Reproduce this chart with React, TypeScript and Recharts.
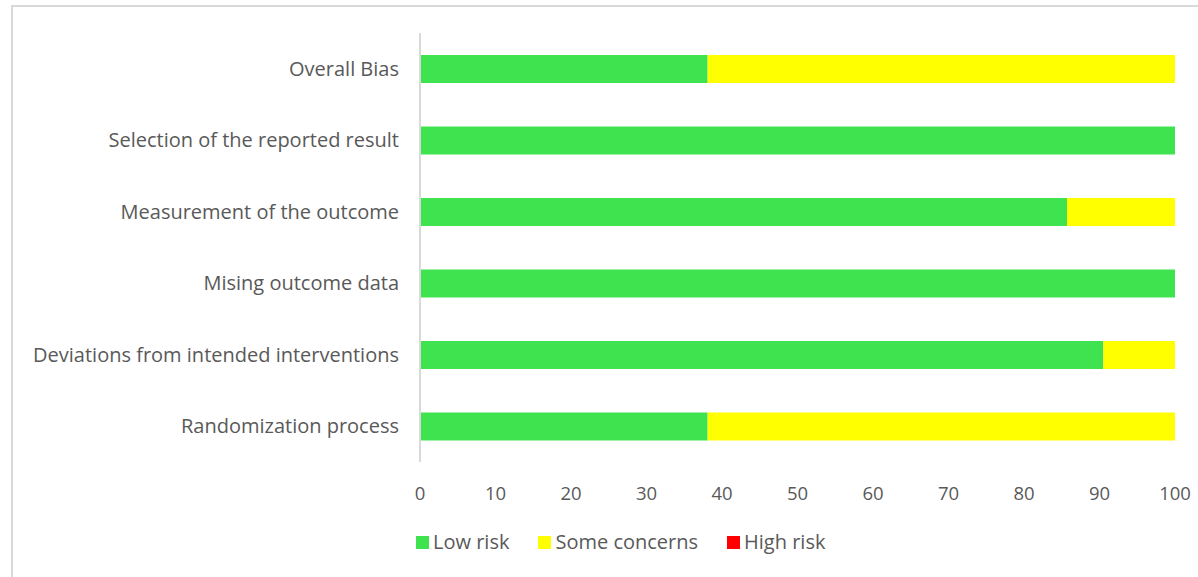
import React from "react";
import { BarChart, Bar, XAxis, YAxis, Legend } from "recharts";

const categories = [
  "Overall Bias",
  "Selection of the reported result",
  "Measurement of the outcome",
  "Mising outcome data",
  "Deviations from intended interventions",
  "Randomization process",
];
const lowRisk = [38.1, 100, 85.7, 100, 90.5, 38.1];
const someConcerns = [61.9, 0, 14.3, 0, 9.5, 61.9];
const highRisk = [0, 0, 0, 0, 0, 0];
const xTicks = [0, 10, 20, 30, 40, 50, 60, 70, 80, 90, 100];

const series = [
  { key: "low", name: "Low risk", color: "#3ee34f" },
  { key: "some", name: "Some concerns", color: "#ffff00" },
  { key: "high", name: "High risk", color: "#ff0000" },
];

const data = categories.map((name, i) => ({
  name,
  low: lowRisk[i],
  some: someConcerns[i],
  high: highRisk[i],
}));

const FONT = "'Open Sans', 'Noto Sans', sans-serif";
const TEXT = "#595959";

function LegendContent() {
  return (
    <div style={{ display: "flex", alignItems: "center", fontFamily: FONT, fontSize: 20, color: TEXT, lineHeight: "20px" }}>
      {series.map((s) => (
        <div key={s.key} style={{ display: "flex", alignItems: "center", marginRight: 29 }}>
          <span style={{ width: 13, height: 13, background: s.color, display: "inline-block", marginRight: 4 }} />
          <span>{s.name}</span>
        </div>
      ))}
    </div>
  );
}

export default function App() {
  return (
    <div style={{ position: "absolute", left: 0, top: 0, width: 1198, height: 577, background: "#fff", overflow: "hidden" }}>
      <div
        style={{
          position: "absolute",
          left: 11,
          top: 5,
          width: 1300,
          height: 700,
          borderLeft: "2px solid #d9d9d9",
          borderTop: "2px solid #d9d9d9",
        }}
      />
      <div style={{ position: "absolute", left: 0, top: 0 }}>
        <BarChart
          width={1198}
          height={577}
          data={data}
          layout="vertical"
          margin={{ top: 33, right: 23, bottom: 25, left: 0 }}
          barSize={28}
        >
          <XAxis
            type="number"
            domain={[0, 100]}
            ticks={xTicks}
            axisLine={false}
            tickLine={false}
            tickMargin={19}
            height={70}
            tick={{ fill: TEXT, fontSize: 18.5, fontFamily: FONT }}
            interval={0}
          />
          <YAxis
            type="category"
            dataKey="name"
            width={420}
            axisLine={{ stroke: "#d9d9d9", strokeWidth: 2 }}
            tickLine={false}
            tickMargin={15}
            interval={0}
            tick={{ fill: TEXT, fontSize: 20, fontFamily: FONT }}
          />
          <Legend verticalAlign="bottom" align="left" height={20} wrapperStyle={{ left: 416 }} content={<LegendContent />} />
          {series.map((s) => (
            <Bar key={s.key} dataKey={s.key} name={s.name} stackId="a" fill={s.color} isAnimationActive={false} />
          ))}
        </BarChart>
      </div>
    </div>
  );
}
